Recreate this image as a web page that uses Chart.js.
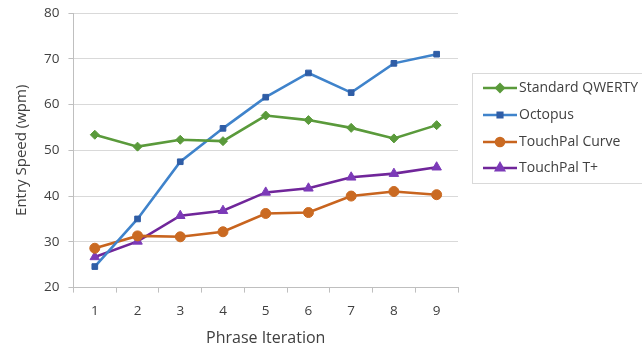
<!DOCTYPE html>
<html><head><meta charset="utf-8">
<script src="https://cdn.jsdelivr.net/npm/chart.js@4"></script>
<style>html,body{margin:0;padding:0;background:#fff}#c{display:block}</style>
</head><body>
<canvas id="c" width="642" height="348"></canvas>
<script>
const categories = ["1","2","3","4","5","6","7","8","9"];
const standardQwerty = [53.4, 50.8, 52.3, 52.0, 57.6, 56.6, 54.9, 52.6, 55.5];
const octopus = [24.6, 35.0, 47.5, 54.8, 61.6, 66.9, 62.6, 69.0, 71.0];
const touchPalCurve = [28.6, 31.3, 31.1, 32.2, 36.2, 36.4, 40.0, 41.0, 40.3];
const touchPalTPlus = [26.7, 30.1, 35.7, 36.8, 40.8, 41.7, 44.1, 44.9, 46.3];
const seriesNames = ["Standard QWERTY", "Octopus", "TouchPal Curve", "TouchPal T+"];

const FONT = "'Open Sans', 'Liberation Sans', sans-serif";
const TXT = '#404040';

const legendBox = {
  id: 'legendBox',
  afterDraw(chart) {
    const ctx = chart.ctx;
    const x0 = 472, y0 = 73, w = 175, h = 110;
    ctx.save();
    ctx.strokeStyle = '#D9D9D9';
    ctx.lineWidth = 1;
    ctx.strokeRect(x0 + 0.5, y0 + 0.5, w, h);
    const ys = [88, 115, 142, 168];
    chart.data.datasets.forEach((ds, i) => {
      const y = ys[i];
      ctx.strokeStyle = ds.borderColor;
      ctx.lineWidth = ds.borderWidth;
      ctx.beginPath(); ctx.moveTo(483, y); ctx.lineTo(517, y); ctx.stroke();
      ctx.fillStyle = ds.pointBackgroundColor;
      ctx.strokeStyle = ds.pointBorderColor;
      Chart.helpers.drawPoint(ctx, {
        pointStyle: ds.pointStyle, radius: ds.pointRadius * 0.8, rotation: 0, borderWidth: 1
      }, 500, y);
      ctx.fillStyle = TXT;
      ctx.font = '14px ' + FONT;
      ctx.textBaseline = 'middle';
      ctx.textAlign = 'left';
      ctx.fillText(ds.label, 519, y);
    });
    ctx.restore();
  }
};

function ds(label, data, line, marker, style, r) {
  return {
    label, data,
    borderColor: line, backgroundColor: marker,
    pointBackgroundColor: marker, pointBorderColor: marker,
    borderWidth: 2.6, pointStyle: style, pointRadius: r, pointBorderWidth: 1,
    tension: 0, fill: false
  };
}

new Chart(document.getElementById('c'), {
  type: 'line',
  data: {
    labels: categories,
    datasets: [
      ds(seriesNames[0], standardQwerty, '#5A9A3B', '#5A9A3B', 'rectRot', 4.5),
      ds(seriesNames[1], octopus, '#3F83CB', '#2F5DA6', 'rect', 4),
      ds(seriesNames[2], touchPalCurve, '#C8641E', '#CA6A22', 'circle', 5),
      ds(seriesNames[3], touchPalTPlus, '#70269A', '#7C3AB8', 'triangle', 5.5)
    ]
  },
  options: {
    responsive: false,
    animation: false,
    devicePixelRatio: 1,
    layout: { padding: { left: 13, right: 184, top: 13, bottom: 0 } },
    plugins: { legend: { display: false }, tooltip: { enabled: false } },
    scales: {
      x: {
        offset: true,
        grid: { offset: true, drawOnChartArea: false, color: '#BFBFBF', tickLength: 5 },
        border: { color: '#BFBFBF' },
        ticks: { color: TXT, font: { family: FONT, size: 13.5 }, padding: 10 },
        title: { display: true, text: 'Phrase Iteration', color: TXT, font: { family: FONT, size: 16 }, padding: { top: 0, bottom: 0 } }
      },
      y: {
        min: 20, max: 80,
        afterFit(scale) { scale.paddingTop = 0; },
        ticks: { stepSize: 10, color: TXT, font: { family: FONT, size: 13.5 }, padding: 9 },
        grid: { color: '#D9D9D9', tickLength: 5, tickColor: '#BFBFBF' },
        border: { color: '#BFBFBF' },
        title: { display: true, text: 'Entry Speed (wpm)', color: TXT, font: { family: FONT, size: 15 }, padding: { top: 0, bottom: 4 } }
      }
    }
  },
  plugins: [legendBox]
});
</script>
</body></html>
